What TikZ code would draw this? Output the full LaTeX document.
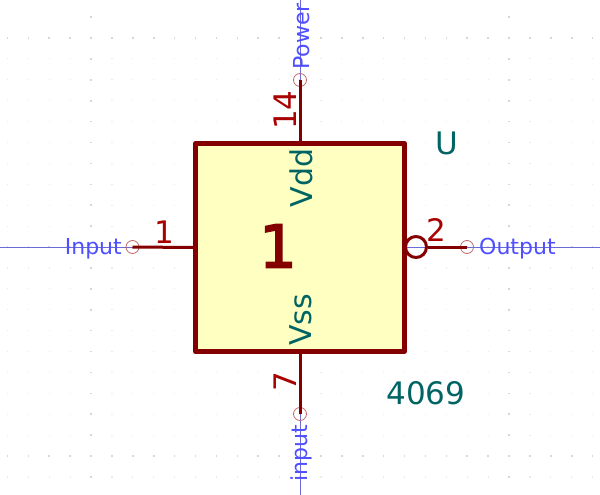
\documentclass[tikz,border=0pt]{standalone}
\usepackage{fontspec}
\setmainfont{DejaVu Sans}
\newfontfamily\bigfont[FakeBold=3]{DejaVu Sans}
\definecolor{pinred}{HTML}{840000}
\definecolor{numred}{HTML}{A90000}
\definecolor{fillY}{HTML}{FFFFC2}
\definecolor{teal}{HTML}{006464}
\definecolor{netblue}{HTML}{4F4FFF}
\definecolor{wireblue}{HTML}{6A6AD8}
\definecolor{endcirc}{HTML}{C06868}
\tikzset{
  x=1pt,y=-1pt,
  body/.style={draw=pinred,fill=fillY,line width=4.6pt,line join=round},
  pinline/.style={draw=pinred,line width=3pt},
  endmark/.style={circle,draw=endcirc,line width=0.8pt,minimum size=13pt,inner sep=0pt},
  pinnum/.style={text=numred,font=\fontsize{31}{31}\selectfont,inner sep=0pt},
  pinname/.style={text=teal,font=\fontsize{30}{30}\selectfont,inner sep=0pt},
  netlabel/.style={text=netblue,font=\fontsize{22}{22}\selectfont,inner sep=0pt},
  field/.style={text=teal,font=\fontsize{31}{31}\selectfont,inner sep=0pt},
  wire/.style={draw=wireblue,line width=0.8pt},
}
\begin{document}
\begin{tikzpicture}
\useasboundingbox (0,0) rectangle (600,495);
\fill[white] (0,0) rectangle (600,495);
% grid
\foreach \i in {-14,...,14}{\foreach \j in {-10,...,11}{
  \pgfmathsetmacro{\px}{300+20.9*\i}\pgfmathsetmacro{\py}{247+20.9*\j}
  \fill[black!8] (\px-.6,\py-.6) rectangle (\px+.6,\py+.6);
}}
\foreach \i in {-10,0,10}{\foreach \j in {-11,...,11}{
  \pgfmathsetmacro{\px}{300+20.9*\i}\pgfmathsetmacro{\py}{247+20.9*\j}
  \fill[black!16] (\px-.8,\py-.8) rectangle (\px+.8,\py+.8);
}}
\foreach \j in {-10,0,10}{\foreach \i in {-14,...,14}{
  \pgfmathsetmacro{\px}{300+20.9*\i}\pgfmathsetmacro{\py}{247+20.9*\j}
  \fill[black!16] (\px-.8,\py-.8) rectangle (\px+.8,\py+.8);
}}
% free ends
\coordinate (wl) at (0,247); \coordinate (wr) at (600,247);
\coordinate (wt) at (300,0); \coordinate (wb) at (300,495);
\draw[wire] (wl) -- (wr);
\draw[wire] (wt) -- (wb);
% body
\node[body,minimum width=209pt,minimum height=208.5pt,inner sep=0pt] (box) at (300,247.5) {};
\node[endmark] (epl) at (132.5,247) {};
\node[endmark] (epr) at (467,247) {};
\node[endmark] (ept) at (300,80) {};
\node[endmark] (epb) at (300,414) {};
\node[circle,draw=pinred,line width=3pt,minimum size=21pt,inner sep=0pt] (bubble) at (416,247) {};
\draw[pinline] (epl.center) -- (box.west);
\draw[pinline] (bubble.east) -- (epr.center);
\draw[pinline] (ept.center) -- (box.north);
\draw[pinline] (box.south) -- (epb.center);
% texts
\node[pinnum] (n1) at (164,232) {1};
\node[pinnum] (n2) at (436,230) {2};
\node[pinnum,rotate=90] (n14) at (285,110) {14};
\node[pinnum,rotate=90] (n7) at (285,382) {7};
\node[pinname,rotate=90] (vdd) at (301,178) {Vdd};
\node[pinname,rotate=90] (vss) at (301,320) {Vss};
\node[text=pinred,inner sep=0pt,font=\bigfont\fontsize{59}{59}\selectfont] (big) at (278,246) {1};
\node[field] (u) at (447,143) {U};
\node[field] (part) at (426,393) {4069};
\node[netlabel,anchor=east] (lin) at (122,248.5) {Input};
\node[netlabel,anchor=west] (lout) at (479,248.5) {Output};
\node[netlabel,rotate=90,anchor=west] (lpow) at (301.5,70) {Power};
\node[netlabel,rotate=90,anchor=east] (linp) at (301.5,425) {input};
\end{tikzpicture}
\end{document}
